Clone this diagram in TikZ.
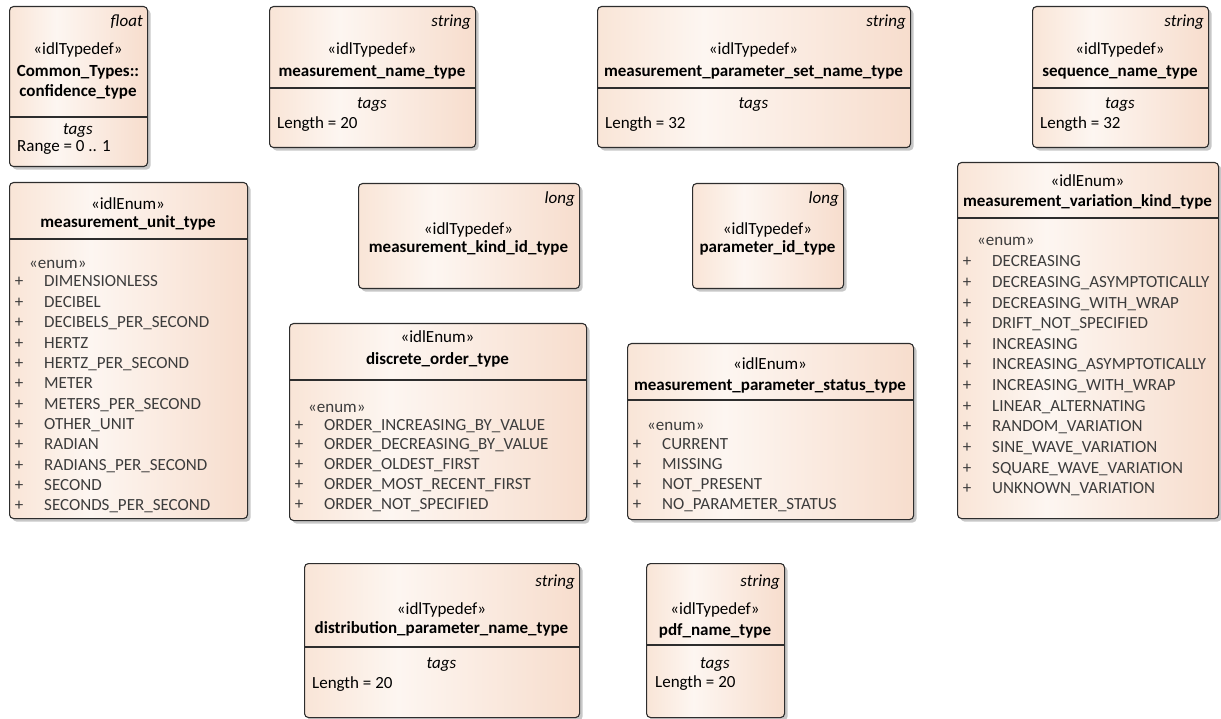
\documentclass[tikz,border=0pt]{standalone}
\usepackage{fontspec}
\setmainfont{Carlito}
\usetikzlibrary{shadows}
\definecolor{pL}{RGB}{249,229,215}
\definecolor{pM}{RGB}{253,246,241}
\definecolor{pR}{RGB}{247,221,205}
\definecolor{linec}{RGB}{45,45,45}
\definecolor{txtc}{RGB}{60,60,60}
\pgfdeclarehorizontalshading{eashade}{100bp}{color(0bp)=(pL); color(25bp)=(pL); color(42bp)=(pM); color(75bp)=(pR); color(100bp)=(pR)}
\tikzset{
  eaframe/.style={draw=linec, line width=1.1pt, rounded corners=4pt, shading=eashade, inner sep=0pt,
    drop shadow={shadow xshift=3pt, shadow yshift=-3pt, fill=black!22, opacity=1}},
  txt/.style={inner sep=0pt, font=\fontsize{17}{20}\selectfont, text=black},
  bld/.style={txt, font=\fontsize{17}{20}\selectfont\bfseries},
  itl/.style={txt, font=\fontsize{17}{20}\selectfont\itshape},
  itm/.style={txt, text=txtc},
  dvline/.style={draw=linec, line width=1.1pt}
}
\newcommand\frm[5]{\node[eaframe, anchor=north west, minimum width={#4pt-#2pt}, minimum height={#5pt-#3pt}] (#1) at (#2,#3) {};}
\newcommand\dv[4]{\draw[dvline] (#2,#4) -- (#3,#4);}
\newcommand\itemlist[5]{%
  \foreach \t [count=\i from 0] in {#5} {
    \node[itm, anchor=base] (#1-p\i) at ({#2+10},{#3+#4*\i}) {+};
    \node[itm, anchor=base west] (#1-\i) at ({#2+35},{#3+#4*\i}) {\t};
  }}
\begin{document}
\begin{tikzpicture}[x=1pt,y=-1pt]
\useasboundingbox (0,0) rectangle (1221,719);

% A confidence_type
\frm{A}{9}{6}{147}{166}
\dv{A}{9}{147}{117}
\node[itl, anchor=base east] (A-t) at (143,27) {float};
\node[txt, anchor=base] (A-s) at (78,55) {«idlTypedef»};
\node[bld, anchor=base] (A-n1) at (78,77) {Common\_Types::};
\node[bld, anchor=base] (A-n2) at (78,97) {confidence\_type};
\node[itl, anchor=base] (A-g) at (78,135) {tags};
\node[txt, anchor=base west] (A-v) at (17,152) {Range = 0 .. 1};

% C measurement_name_type
\frm{C}{269}{6}{475}{147}
\dv{C}{269}{475}{88}
\node[itl, anchor=base east] (C-t) at (471,27) {string};
\node[txt, anchor=base] (C-s) at (372,55) {«idlTypedef»};
\node[bld, anchor=base] (C-n) at (372,77) {measurement\_name\_type};
\node[itl, anchor=base] (C-g) at (372,109) {tags};
\node[txt, anchor=base west] (C-v) at (277,129) {Length = 20};

% D measurement_parameter_set_name_type
\frm{D}{597}{6}{910}{147}
\dv{D}{597}{910}{88}
\node[itl, anchor=base east] (D-t) at (906,27) {string};
\node[txt, anchor=base] (D-s) at (753.5,55) {«idlTypedef»};
\node[bld, anchor=base] (D-n) at (753.5,77) {measurement\_parameter\_set\_name\_type};
\node[itl, anchor=base] (D-g) at (753.5,109) {tags};
\node[txt, anchor=base west] (D-v) at (605,129) {Length = 32};

% E sequence_name_type
\frm{E}{1032}{6}{1208}{147}
\dv{E}{1032}{1208}{88}
\node[itl, anchor=base east] (E-t) at (1204,27) {string};
\node[txt, anchor=base] (E-s) at (1120,55) {«idlTypedef»};
\node[bld, anchor=base] (E-n) at (1120,77) {sequence\_name\_type};
\node[itl, anchor=base] (E-g) at (1120,109) {tags};
\node[txt, anchor=base west] (E-v) at (1040,129) {Length = 32};

% B measurement_unit_type
\frm{B}{9}{182}{247}{518}
\dv{B}{9}{247}{239}
\node[txt, anchor=base] (B-s) at (128,210) {«idlEnum»};
\node[bld, anchor=base] (B-n) at (128,228) {measurement\_unit\_type};
\node[itm, anchor=base west] (B-e) at (29,269) {«enum»};
\itemlist{B}{9}{287}{20.36}{DIMENSIONLESS,DECIBEL,DECIBELS\_PER\_SECOND,HERTZ,HERTZ\_PER\_SECOND,METER,METERS\_PER\_SECOND,OTHER\_UNIT,RADIAN,RADIANS\_PER\_SECOND,SECOND,SECONDS\_PER\_SECOND}

% G measurement_kind_id_type
\frm{G}{358}{183}{579}{288}
\node[itl, anchor=base east] (G-t) at (575,204) {long};
\node[txt, anchor=base] (G-s) at (468.5,235) {«idlTypedef»};
\node[bld, anchor=base] (G-n) at (468.5,253) {measurement\_kind\_id\_type};

% H parameter_id_type
\frm{H}{692}{183}{843}{288}
\node[itl, anchor=base east] (H-t) at (839,204) {long};
\node[txt, anchor=base] (H-s) at (767.5,235) {«idlTypedef»};
\node[bld, anchor=base] (H-n) at (767.5,253) {parameter\_id\_type};

% F measurement_variation_kind_type
\frm{F}{957}{162}{1218}{518}
\dv{F}{957}{1218}{218}
\node[txt, anchor=base] (F-s) at (1087.5,187) {«idlEnum»};
\node[bld, anchor=base] (F-n) at (1087.5,207) {measurement\_variation\_kind\_type};
\node[itm, anchor=base west] (F-e) at (977,246) {«enum»};
\itemlist{F}{957}{267}{20.6}{DECREASING,DECREASING\_ASYMPTOTICALLY,DECREASING\_WITH\_WRAP,DRIFT\_NOT\_SPECIFIED,INCREASING,INCREASING\_ASYMPTOTICALLY,INCREASING\_WITH\_WRAP,LINEAR\_ALTERNATING,RANDOM\_VARIATION,SINE\_WAVE\_VARIATION,SQUARE\_WAVE\_VARIATION,UNKNOWN\_VARIATION}

% I discrete_order_type
\frm{I}{289}{323}{586}{520}
\dv{I}{289}{586}{380}
\node[txt, anchor=base] (I-s) at (437.5,343) {«idlEnum»};
\node[bld, anchor=base] (I-n) at (437.5,364) {discrete\_order\_type};
\node[itm, anchor=base west] (I-e) at (308,412) {«enum»};
\itemlist{I}{289}{430}{19.8}{ORDER\_INCREASING\_BY\_VALUE,ORDER\_DECREASING\_BY\_VALUE,ORDER\_OLDEST\_FIRST,ORDER\_MOST\_RECENT\_FIRST,ORDER\_NOT\_SPECIFIED}

% S measurement_parameter_status_type
\frm{S}{627}{343}{913}{519}
\dv{S}{627}{913}{400}
\node[txt, anchor=base] (S-s) at (770,370) {«idlEnum»};
\node[bld, anchor=base] (S-n) at (770,390) {measurement\_parameter\_status\_type};
\node[itm, anchor=base west] (S-e) at (647,430) {«enum»};
\itemlist{S}{627}{449}{20.3}{CURRENT,MISSING,NOT\_PRESENT,NO\_PARAMETER\_STATUS}

% J distribution_parameter_name_type
\frm{J}{304}{563}{579}{717}
\dv{J}{304}{579}{647}
\node[itl, anchor=base east] (J-t) at (575,586) {string};
\node[txt, anchor=base] (J-s) at (441.5,614) {«idlTypedef»};
\node[bld, anchor=base] (J-n) at (441.5,633) {distribution\_parameter\_name\_type};
\node[itl, anchor=base] (J-g) at (441.5,668) {tags};
\node[txt, anchor=base west] (J-v) at (312,688) {Length = 20};

% K pdf_name_type
\frm{K}{646}{563}{784}{717}
\dv{K}{646}{784}{645}
\node[itl, anchor=base east] (K-t) at (780,586) {string};
\node[txt, anchor=base] (K-s) at (715,614) {«idlTypedef»};
\node[bld, anchor=base] (K-n) at (715,635) {pdf\_name\_type};
\node[itl, anchor=base] (K-g) at (715,668) {tags};
\node[txt, anchor=base west] (K-v) at (655,687) {Length = 20};
\end{tikzpicture}
\end{document}
